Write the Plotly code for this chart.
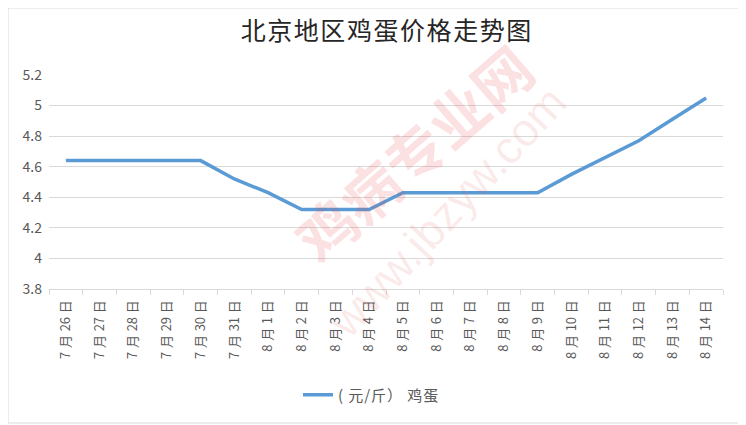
import plotly.graph_objects as go

# daily egg price, Beijing (yuan / jin)
dates = ['7 月 26 日', '7 月 27 日', '7 月 28 日', '7 月 29 日', '7 月 30 日', '7 月 31 日',
         '8 月 1 日', '8 月 2 日', '8 月 3 日', '8 月 4 日', '8 月 5 日', '8 月 6 日', '8 月 7 日',
         '8 月 8 日', '8 月 9 日', '8 月 10 日', '8 月 11 日', '8 月 12 日', '8 月 13 日', '8 月 14 日']
prices = [4.64, 4.64, 4.64, 4.64, 4.64, 4.52,
          4.43, 4.32, 4.32, 4.32, 4.43, 4.43, 4.43,
          4.43, 4.43, 4.55, 4.66, 4.77, 4.91, 5.05]
y_ticks = [3.8, 4, 4.2, 4.4, 4.6, 4.8, 5, 5.2]
y_labels = ['3.8', '4', '4.2', '4.4', '4.6', '4.8', '5', '5.2']

# the page body adds 8px before the figure, so margins are shifted by that
o = 8
W, H = 746, 425
ml, mt = 49 - o, 75 - o
mr, mb = W - (723 - o), H - (289 - o)
pw, ph = W - ml - mr, H - mt - mb


def px(x, y):
    # page pixel -> paper coords
    return (x - o - ml) / pw, (H - mb - (y - o)) / ph


hs = '\u200a'
series_name = hs.join('( 元/斤） 鸡蛋')
title = hs.join('北京地区鸡蛋价格走势图')
tick_text = [d.replace(' ', ' ' + hs) for d in dates]

fig = go.Figure()
fig.add_trace(go.Scatter(
    x=dates, y=prices, mode='lines', name=series_name,
    line=dict(color='#5B9BD5', width=3.5)
))

fig.update_layout(
    width=W, height=H,
    margin=dict(l=ml, r=mr, t=mt, b=mb),
    paper_bgcolor='white', plot_bgcolor='white',
    font=dict(family='Noto Sans CJK SC', color='#595959', size=12),
    title=dict(text=title, x=0.5, xanchor='center', xref='paper',
               y=1 - (31 - o) / H, yanchor='middle',
               font=dict(size=25, color='#262626')),
    showlegend=True,
    legend=dict(orientation='h', x=px(371, 0)[0], xanchor='center', y=px(0, 395)[1],
                yanchor='middle', font=dict(size=15, color='#595959')),
    xaxis=dict(type='category', range=[-0.5, len(dates) - 0.5],
               tickvals=dates, ticktext=tick_text,
               showgrid=False, showline=True, linecolor='#D9D9D9',
               ticks='outside', tickson='boundaries', ticklen=5, tickcolor='#D9D9D9',
               tickangle=-90, ticklabelstandoff=5,
               tickfont=dict(size=13, color='#595959'), automargin=False),
    yaxis=dict(range=[3.8, 5.2], tickvals=y_ticks, ticktext=y_labels,
               showgrid=True, gridcolor='#D9D9D9', zeroline=False, showline=False,
               ticks='', ticklabelstandoff=6, tickfont=dict(size=14, color='#595959'),
               automargin=False),
)

# watermark of the source site
wx, wy = px(413, 152)
fig.add_annotation(text='<b>鸡病专业网</b>', xref='paper', yref='paper', x=wx, y=wy,
                   showarrow=False, textangle=-41,
                   font=dict(size=58, color='rgba(230,70,70,0.16)'))
ux, uy = px(447, 212)
fig.add_annotation(text='www.jbzyw.com', xref='paper', yref='paper', x=ux, y=uy,
                   showarrow=False, textangle=-47,
                   font=dict(family='Liberation Sans', size=46, color='rgba(230,90,90,0.13)'))

# light frame round the chart
x0, y0 = px(o, 423)
x1, y1 = px(744, o)
fig.add_shape(type='rect', xref='paper', yref='paper', x0=x0, x1=x1, y0=y0, y1=y1,
              line=dict(color='#D9D9D9', width=1))

fig.write_html("out.html")
